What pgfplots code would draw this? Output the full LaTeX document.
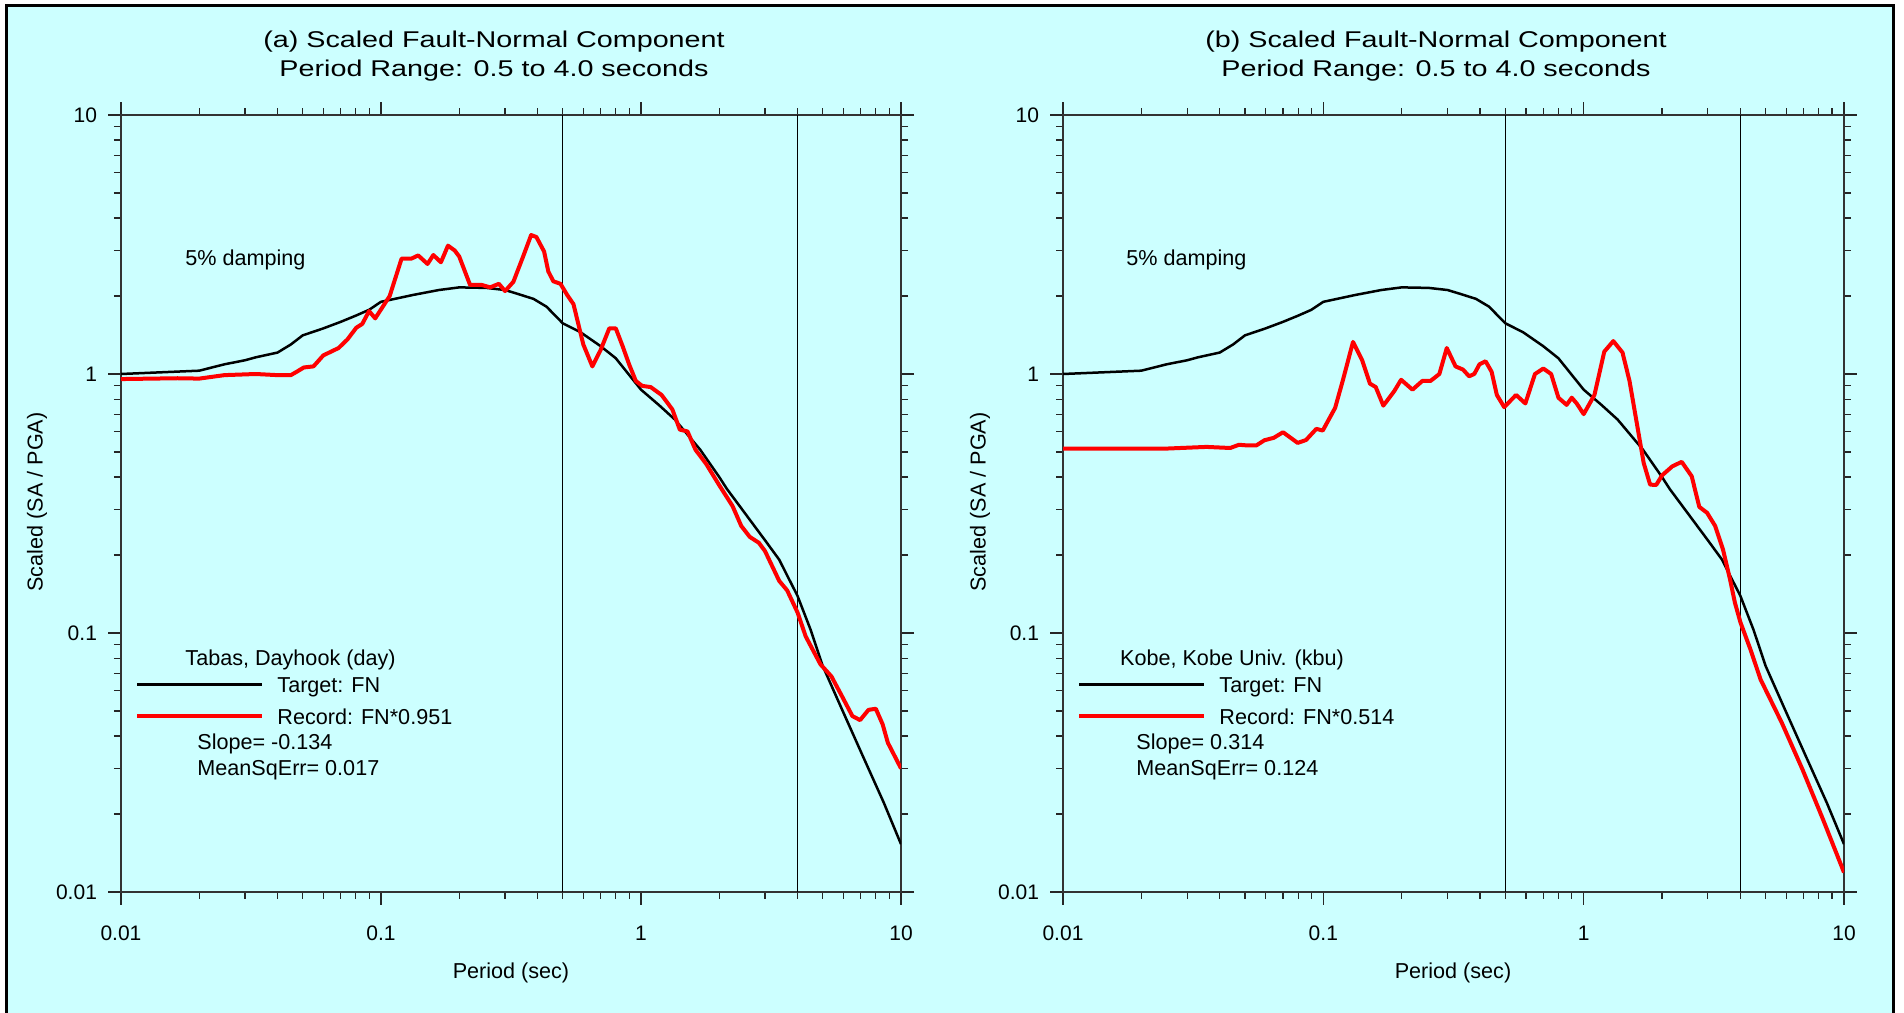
\documentclass[border=0pt]{standalone}
\usepackage{fontspec}
\setmainfont{Liberation Sans}
\newfontfamily\titlefont{Liberation Sans}[FakeStretch=1.26]
\usepackage{pgfplots}
\pgfplotsset{compat=1.18}
\definecolor{cyanbg}{RGB}{204,255,255}
\definecolor{recred}{RGB}{255,0,0}

\begin{document}
\begin{tikzpicture}
\useasboundingbox (0,0) rectangle (952pt,506pt);
\fill[white] (0,0) rectangle (952pt,506pt);
\filldraw[fill=cyanbg, draw=black, line width=1.5pt] (3.3pt,-5pt) rectangle (946.7pt,503.2pt);

% ---------------- panel (a)
\begin{axis}[width=390pt, height=388.5pt, scale only axis, at={(60.5pt,60pt)}, anchor=south west,
    xmode=log, ymode=log,
    xmin=0.01, xmax=10, ymin=0.01, ymax=10,
    xtick={0.01,0.1,1,10}, xticklabels={0.01,0.1,1,10},
    ytick={0.01,0.1,1,10}, yticklabels={0.01,0.1,1,10},
    minor xtick={0.02,0.03,0.04,0.05,0.06,0.07,0.08,0.09,0.2,0.3,0.4,0.5,0.6,0.7,0.8,0.9,2,3,4,5,6,7,8,9},
    minor ytick={0.02,0.03,0.04,0.05,0.06,0.07,0.08,0.09,0.2,0.3,0.4,0.5,0.6,0.7,0.8,0.9,2,3,4,5,6,7,8,9},
    tick align=outside,
    major tick length=6.5pt, minor tick length=3.5pt,
    tick style={black!85, line width=0.6pt},
    axis line style={line width=1pt, black!80},
    tick label style={font=\fontsize{10.5}{12}\selectfont},
    xticklabel style={yshift=-7pt},
    yticklabel style={xshift=-2pt},
    legend image code/.code={\draw[#1] (0pt,1.3pt) -- (62.5pt,1.3pt);},
    legend style={draw=none, fill=none, inner sep=0pt, row sep=5pt, column sep=6.5pt,
      at={(0.018,0.2785)}, anchor=north west,
      nodes={inner sep=0pt, text height=8pt, text depth=3pt, font=\fontsize{10.8}{13}\selectfont}},
    legend cell align=left]
\addplot[black, line width=0.75pt, forget plot] coordinates {(0.5,0.01) (0.5,10)};
\addplot[black, line width=0.75pt, forget plot] coordinates {(4,0.01) (4,10)};
\addplot[black, line width=1.25pt] coordinates {
(0.01,1.00) (0.02,1.03) (0.025,1.09) (0.03,1.13) (0.033,1.16) (0.04,1.21)
(0.045,1.30) (0.05,1.41) (0.06,1.50) (0.07,1.59) (0.08,1.68) (0.09,1.77)
(0.1,1.90) (0.133,2.02) (0.167,2.11) (0.2,2.16) (0.254,2.15) (0.3,2.11)
(0.335,2.04) (0.386,1.95) (0.433,1.82) (0.5,1.57) (0.585,1.45) (0.7,1.28)
(0.8,1.15) (1.0,0.87) (1.17,0.76) (1.35,0.667) (1.69,0.51) (2.0,0.40)
(2.14,0.36) (2.57,0.281) (3.0,0.228) (3.4,0.192) (4.0,0.139) (4.49,0.103)
(5.0,0.0746) (5.93,0.0507) (7.13,0.0335) (8.59,0.0221) (10,0.0153)};
\addlegendentry{Target: FN}
\addplot[recred, line width=2pt, line join=round] coordinates {
(0.01,0.956) (0.0165,0.963) (0.02,0.96) (0.025,0.99) (0.033,1.0) (0.04,0.99)
(0.045,0.99) (0.0474,1.02) (0.0505,1.06) (0.055,1.07) (0.06,1.18) (0.0687,1.26)
(0.0743,1.36) (0.0804,1.51) (0.0847,1.56) (0.090,1.75) (0.095,1.64) (0.108,2.0)
(0.120,2.79) (0.131,2.79) (0.139,2.87) (0.151,2.66) (0.159,2.88) (0.170,2.70)
(0.181,3.13) (0.192,3.0) (0.2,2.84) (0.22,2.21) (0.243,2.21) (0.263,2.16)
(0.284,2.23) (0.3,2.09) (0.323,2.27) (0.352,2.84) (0.378,3.44) (0.396,3.38)
(0.424,2.97) (0.44,2.49) (0.46,2.28) (0.49,2.23) (0.52,2.02) (0.55,1.86)
(0.60,1.30) (0.65,1.07) (0.7,1.24) (0.755,1.50) (0.80,1.50) (0.85,1.28)
(0.90,1.09) (0.955,0.94) (1.01,0.90) (1.09,0.89) (1.2,0.83) (1.32,0.73)
(1.41,0.61) (1.51,0.60) (1.62,0.51) (1.78,0.45) (2.0,0.372) (2.25,0.309)
(2.43,0.259) (2.62,0.235) (2.84,0.223) (3.0,0.207) (3.4,0.159) (3.65,0.146)
(4.0,0.12) (4.3,0.097) (4.9,0.0757) (5.4,0.068) (5.93,0.057) (6.5,0.0478)
(6.96,0.0461) (7.5,0.0505) (8.0,0.051) (8.5,0.0444) (8.9,0.0377) (10,0.030)};
\addlegendentry{Record: FN*0.951}
\end{axis}

% ---------------- panel (b)
\begin{axis}[width=390.5pt, height=388.5pt, scale only axis, at={(531.5pt,60pt)}, anchor=south west,
    xmode=log, ymode=log,
    xmin=0.01, xmax=10, ymin=0.01, ymax=10,
    xtick={0.01,0.1,1,10}, xticklabels={0.01,0.1,1,10},
    ytick={0.01,0.1,1,10}, yticklabels={0.01,0.1,1,10},
    minor xtick={0.02,0.03,0.04,0.05,0.06,0.07,0.08,0.09,0.2,0.3,0.4,0.5,0.6,0.7,0.8,0.9,2,3,4,5,6,7,8,9},
    minor ytick={0.02,0.03,0.04,0.05,0.06,0.07,0.08,0.09,0.2,0.3,0.4,0.5,0.6,0.7,0.8,0.9,2,3,4,5,6,7,8,9},
    tick align=outside,
    major tick length=6.5pt, minor tick length=3.5pt,
    tick style={black!85, line width=0.6pt},
    axis line style={line width=1pt, black!80},
    tick label style={font=\fontsize{10.5}{12}\selectfont},
    xticklabel style={yshift=-7pt},
    yticklabel style={xshift=-2pt},
    legend image code/.code={\draw[#1] (0pt,1.3pt) -- (62.5pt,1.3pt);},
    legend style={draw=none, fill=none, inner sep=0pt, row sep=5pt, column sep=6.5pt,
      at={(0.018,0.2785)}, anchor=north west,
      nodes={inner sep=0pt, text height=8pt, text depth=3pt, font=\fontsize{10.8}{13}\selectfont}},
    legend cell align=left]
\addplot[black, line width=0.75pt, forget plot] coordinates {(0.5,0.01) (0.5,10)};
\addplot[black, line width=0.75pt, forget plot] coordinates {(4,0.01) (4,10)};
\addplot[black, line width=1.25pt] coordinates {
(0.01,1.00) (0.02,1.03) (0.025,1.09) (0.03,1.13) (0.033,1.16) (0.04,1.21)
(0.045,1.30) (0.05,1.41) (0.06,1.50) (0.07,1.59) (0.08,1.68) (0.09,1.77)
(0.1,1.90) (0.133,2.02) (0.167,2.11) (0.2,2.16) (0.254,2.15) (0.3,2.11)
(0.335,2.04) (0.386,1.95) (0.433,1.82) (0.5,1.57) (0.585,1.45) (0.7,1.28)
(0.8,1.15) (1.0,0.87) (1.17,0.76) (1.35,0.667) (1.69,0.51) (2.0,0.40)
(2.14,0.36) (2.57,0.281) (3.0,0.228) (3.4,0.192) (4.0,0.139) (4.49,0.103)
(5.0,0.0746) (5.93,0.0507) (7.13,0.0335) (8.59,0.0221) (10,0.0153)};
\addlegendentry{Target: FN}
\addplot[recred, line width=2pt, line join=round] coordinates {
(0.01,0.515) (0.0246,0.515) (0.0356,0.523) (0.0439,0.518) (0.0474,0.533)
(0.051,0.53) (0.0553,0.53) (0.0594,0.555) (0.0645,0.567) (0.07,0.596)
(0.0797,0.542) (0.0858,0.556) (0.094,0.614) (0.0995,0.605) (0.111,0.74)
(0.119,0.95) (0.13,1.33) (0.141,1.13) (0.151,0.918) (0.159,0.89) (0.170,0.755)
(0.187,0.857) (0.199,0.95) (0.22,0.87) (0.24,0.94) (0.258,0.94) (0.279,1.0)
(0.298,1.26) (0.322,1.07) (0.344,1.04) (0.363,0.98) (0.38,1.0) (0.398,1.09)
(0.42,1.12) (0.443,1.02) (0.464,0.83) (0.495,0.745) (0.55,0.83) (0.597,0.77)
(0.65,1.0) (0.70,1.05) (0.75,1.0) (0.80,0.81) (0.86,0.76) (0.90,0.81)
(0.94,0.77) (1.0,0.70) (1.10,0.83) (1.20,1.22) (1.30,1.34) (1.41,1.21)
(1.50,0.94) (1.70,0.454) (1.80,0.374) (1.90,0.373) (2.0,0.406) (2.19,0.44)
(2.38,0.458) (2.6,0.403) (2.78,0.307) (2.98,0.291) (3.2,0.259) (3.43,0.21)
(3.65,0.161) (3.81,0.131) (4.0,0.11) (4.37,0.0865) (4.78,0.0662) (5.77,0.045)
(6.92,0.0298) (8.3,0.0191) (10,0.0119)};
\addlegendentry{Record: FN*0.514}
\end{axis}

% ---------------- texts
\begin{scope}[every node/.style={inner sep=0pt}]
\node[anchor=base] at (247pt,482pt) {\titlefont\fontsize{11.4}{14}\selectfont (a) Scaled Fault-Normal Component};
\node[anchor=base] at (247pt,467.5pt) {\titlefont\fontsize{11.4}{14}\selectfont Period Range: 0.5 to 4.0 seconds};
\node[anchor=base] at (718pt,482pt) {\titlefont\fontsize{11.4}{14}\selectfont (b) Scaled Fault-Normal Component};
\node[anchor=base] at (718pt,467.5pt) {\titlefont\fontsize{11.4}{14}\selectfont Period Range: 0.5 to 4.0 seconds};

\node at (255.5pt,19.5pt) {\fontsize{10.8}{13}\selectfont Period (sec)};
\node at (726.5pt,19.5pt) {\fontsize{10.8}{13}\selectfont Period (sec)};
\node[rotate=90] at (18.5pt,255pt) {\fontsize{10.8}{13}\selectfont Scaled (SA / PGA)};
\node[rotate=90] at (490pt,255pt) {\fontsize{10.8}{13}\selectfont Scaled (SA / PGA)};

\node[anchor=base west] at (92.5pt,373pt) {\fontsize{10.8}{13}\selectfont 5\% damping};
\node[anchor=base west] at (563pt,373pt) {\fontsize{10.8}{13}\selectfont 5\% damping};

\node[anchor=base] at (145.25pt,173pt) {\fontsize{10.8}{13}\selectfont Tabas, Dayhook (day)};
\node[anchor=base west] at (98.5pt,131.5pt) {\fontsize{10.8}{13}\selectfont Slope= -0.134};
\node[anchor=base west] at (98.5pt,118.5pt) {\fontsize{10.8}{13}\selectfont MeanSqErr= 0.017};

\node[anchor=base] at (616pt,173pt) {\fontsize{10.8}{13}\selectfont Kobe, Kobe Univ. (kbu)};
\node[anchor=base west] at (568pt,131.5pt) {\fontsize{10.8}{13}\selectfont Slope= 0.314};
\node[anchor=base west] at (568pt,118.5pt) {\fontsize{10.8}{13}\selectfont MeanSqErr= 0.124};
\end{scope}
\end{tikzpicture}
\end{document}
